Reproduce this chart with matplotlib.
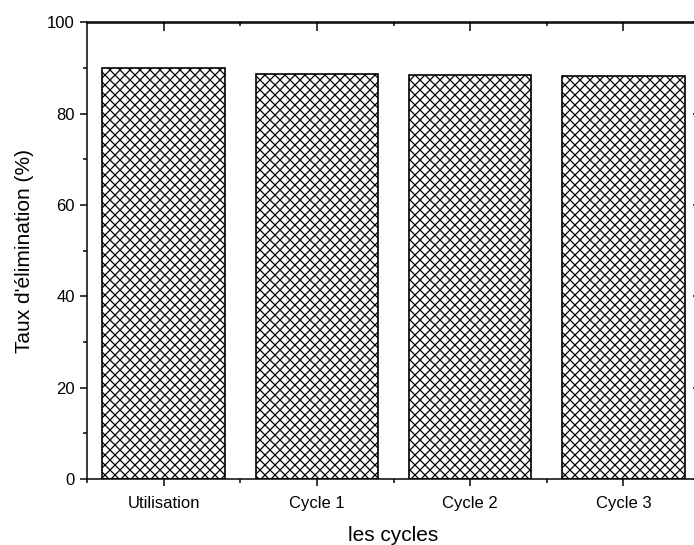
import matplotlib
matplotlib.use("Agg")
import matplotlib.pyplot as plt
import numpy as np
from matplotlib.ticker import MultipleLocator, FixedLocator

plt.rcParams['font.family'] = ['Liberation Sans', 'DejaVu Sans']
plt.rcParams['hatch.linewidth'] = 0.75

# data
categories = ['Utilisation', 'Cycle 1', 'Cycle 2', 'Cycle 3']
removal_rate = [90.1, 88.8, 88.6, 88.3]

fig = plt.figure(figsize=(694 / 120, 545 / 120), dpi=120)
# right spine sits just outside the picture, as in the reference
ax = fig.add_axes([87 / 694, 1 - 479 / 545, (700 - 87) / 694, (479 - 22.5) / 545])

x = np.arange(len(categories))
ax.bar(x, removal_rate, width=0.8, color='white', edgecolor='black',
       linewidth=1.0, hatch='xxxx')

ax.set_xlim(-0.5, len(categories) - 0.5)
ax.set_ylim(0, 100)
ax.set_xticks(x)
ax.set_xticklabels(categories)
ax.xaxis.set_minor_locator(FixedLocator(np.arange(-0.5, len(categories), 1.0)))
ax.yaxis.set_major_locator(MultipleLocator(20))
ax.yaxis.set_minor_locator(MultipleLocator(10))

for s in ax.spines.values():
    s.set_linewidth(0.9)

ax.tick_params(which='major', direction='out', length=4.2, width=0.9, labelsize=10, pad=3)
ax.tick_params(which='minor', direction='out', length=2.2, width=0.9)
ax.tick_params(axis='x', which='major', pad=6)

# inward ticks on top and right
top = ax.secondary_xaxis('top')
top.set_xticks(x)
top.xaxis.set_minor_locator(FixedLocator(np.arange(0.5, len(categories) - 1, 1.0)))
top.tick_params(which='major', direction='in', length=5.2, width=0.9, labeltop=False)
top.tick_params(which='minor', direction='in', length=2.6, width=0.9)
top.spines['top'].set_linewidth(0.9)

right = ax.secondary_yaxis('right')
right.set_yticks(np.arange(0, 101, 20))
right.tick_params(which='major', direction='in', length=4, width=0.9, labelright=False)
right.spines['right'].set_linewidth(0.9)

ax.set_xlabel('les cycles', fontsize=12.5, labelpad=9)
ax.set_ylabel("Taux d'élimination (%)", fontsize=12.5, labelpad=8)

fig.savefig('out.png', dpi=120)
